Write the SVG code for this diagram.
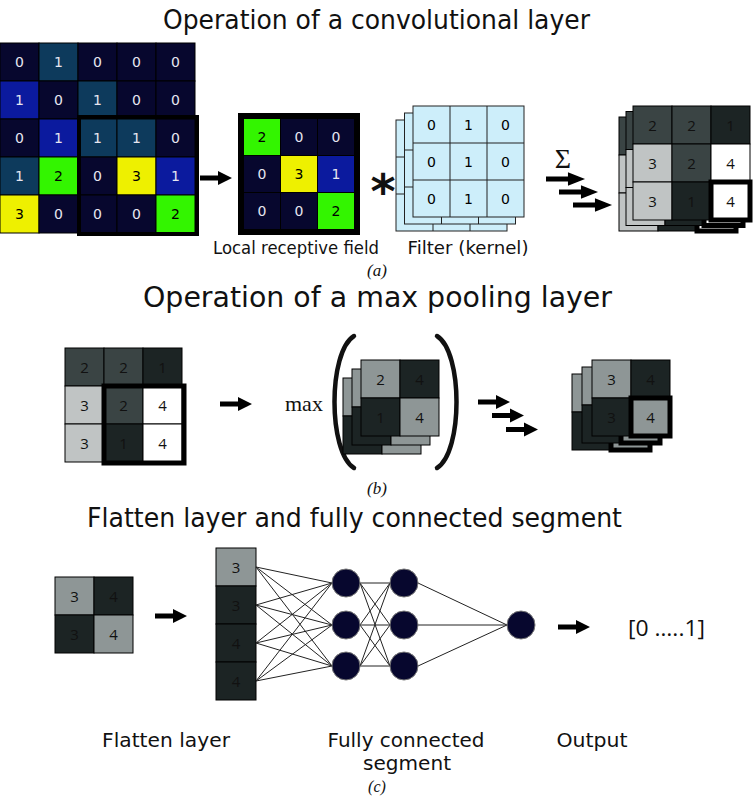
<svg xmlns="http://www.w3.org/2000/svg" width="754" height="796" viewBox="0 0 754 796">
<defs>
<style>
.t{font-family:"DejaVu Sans","Liberation Sans",sans-serif;fill:#111}
.title{font-size:26px}
.lbl{font-size:18px}
.lbl2{font-size:19px}
.n{font-size:14px;text-anchor:middle;dominant-baseline:central;font-family:"DejaVu Sans",sans-serif}
.nw{fill:#e6e6f0}
.nb{fill:#000}
.ng{font-size:15px;text-anchor:middle;dominant-baseline:central;font-family:"Open Sans","Liberation Sans",sans-serif;fill:#111}
.cap{font-family:"Liberation Serif",serif;font-style:italic;font-size:17px;text-anchor:middle;fill:#111}
.cell{stroke:#000;stroke-width:1}
.nav{fill:#07072e}
.tea{fill:#0d3a5c}
.blu{fill:#0b1a9e}
.grn{fill:#33f500}
.yel{fill:#eef000}
.kb{fill:#cdeefa;stroke:#222;stroke-width:1}
.dg{fill:#3a4444}
.dk{fill:#1c2424}
.lg{fill:#c0c4c4}
.wh{fill:#ffffff}
.gy{fill:#8e9696}
.thick{fill:none;stroke:#000}
.edge{stroke:#222;stroke-width:1;fill:none}
.neu{fill:#07072e;stroke:#777;stroke-width:1}
</style>
<path id="arr" d="M0,-2.6 H18 V-7 L32,0 L18,7 V2.6 H0 Z" fill="#000"/>
</defs>

<rect width="754" height="796" fill="#fff"/>

<text class="t title" x="376.5" y="29" text-anchor="middle" textLength="427" lengthAdjust="spacingAndGlyphs">Operation of a convolutional layer</text>

<g id="input-grid">
<rect class="cell nav" x="0" y="43" width="39" height="38"/><rect class="cell tea" x="39" y="43" width="39" height="38"/><rect class="cell nav" x="78" y="43" width="39" height="38"/><rect class="cell nav" x="117" y="43" width="39" height="38"/><rect class="cell nav" x="156" y="43" width="39" height="38"/>
<rect class="cell blu" x="0" y="81" width="39" height="38"/><rect class="cell nav" x="39" y="81" width="39" height="38"/><rect class="cell tea" x="78" y="81" width="39" height="38"/><rect class="cell nav" x="117" y="81" width="39" height="38"/><rect class="cell nav" x="156" y="81" width="39" height="38"/>
<rect class="cell nav" x="0" y="119" width="39" height="38"/><rect class="cell blu" x="39" y="119" width="39" height="38"/><rect class="cell tea" x="78" y="119" width="39" height="38"/><rect class="cell tea" x="117" y="119" width="39" height="38"/><rect class="cell nav" x="156" y="119" width="39" height="38"/>
<rect class="cell tea" x="0" y="157" width="39" height="38"/><rect class="cell grn" x="39" y="157" width="39" height="38"/><rect class="cell nav" x="78" y="157" width="39" height="38"/><rect class="cell yel" x="117" y="157" width="39" height="38"/><rect class="cell blu" x="156" y="157" width="39" height="38"/>
<rect class="cell yel" x="0" y="195" width="39" height="38"/><rect class="cell nav" x="39" y="195" width="39" height="38"/><rect class="cell nav" x="78" y="195" width="39" height="38"/><rect class="cell nav" x="117" y="195" width="39" height="38"/><rect class="cell grn" x="156" y="195" width="39" height="38"/>
<text class="n nw" x="19.5" y="62">0</text><text class="n nw" x="58.5" y="62">1</text><text class="n nw" x="97.5" y="62">0</text><text class="n nw" x="136.5" y="62">0</text><text class="n nw" x="175.5" y="62">0</text>
<text class="n nw" x="19.5" y="100">1</text><text class="n nw" x="58.5" y="100">0</text><text class="n nw" x="97.5" y="100">1</text><text class="n nw" x="136.5" y="100">0</text><text class="n nw" x="175.5" y="100">0</text>
<text class="n nw" x="19.5" y="138">0</text><text class="n nw" x="58.5" y="138">1</text><text class="n nw" x="97.5" y="138">1</text><text class="n nw" x="136.5" y="138">1</text><text class="n nw" x="175.5" y="138">0</text>
<text class="n nw" x="19.5" y="176">1</text><text class="n nb" x="58.5" y="176">2</text><text class="n nw" x="97.5" y="176">0</text><text class="n nb" x="136.5" y="176">3</text><text class="n nw" x="175.5" y="176">1</text>
<text class="n nb" x="19.5" y="214">3</text><text class="n nw" x="58.5" y="214">0</text><text class="n nw" x="97.5" y="214">0</text><text class="n nw" x="136.5" y="214">0</text><text class="n nb" x="175.5" y="214">2</text>
<rect class="thick" x="79" y="117" width="118" height="117" stroke-width="4"/>
</g>

<g id="receptive-field">
<rect x="238" y="113" width="122" height="122" fill="#000"/>
<rect class="grn" x="244" y="119" width="36" height="36"/><rect class="nav" x="281" y="119" width="36" height="36"/><rect class="nav" x="318" y="119" width="36" height="36"/>
<rect class="nav" x="244" y="156" width="36" height="36"/><rect class="yel" x="281" y="156" width="36" height="36"/><rect class="blu" x="318" y="156" width="36" height="36"/>
<rect class="nav" x="244" y="193" width="36" height="36"/><rect class="nav" x="281" y="193" width="36" height="36"/><rect class="grn" x="318" y="193" width="36" height="36"/>
<text class="n nb" x="262" y="137">2</text><text class="n nw" x="299" y="137">0</text><text class="n nw" x="336" y="137">0</text>
<text class="n nw" x="262" y="174">0</text><text class="n nb" x="299" y="174">3</text><text class="n nw" x="336" y="174">1</text>
<text class="n nw" x="262" y="211">0</text><text class="n nw" x="299" y="211">0</text><text class="n nb" x="336" y="211">2</text>
<text class="t lbl" x="296" y="254" text-anchor="middle" textLength="166" lengthAdjust="spacingAndGlyphs">Local receptive field</text>
</g>

<g id="filter">
<text x="383" y="208" font-family="DejaVu Sans,sans-serif" font-weight="bold" font-size="48" text-anchor="middle" fill="#111">*</text>
<g transform="translate(396,120)"><rect class="kb" width="111" height="111"/><path class="edge" d="M37,0V111M74,0V111M0,37H111M0,74H111"/></g>
<g transform="translate(404.5,113)"><rect class="kb" width="111" height="111"/><path class="edge" d="M37,0V111M74,0V111M0,37H111M0,74H111"/></g>
<g transform="translate(413,106)"><rect class="kb" width="111" height="111"/><path class="edge" d="M37,0V111M74,0V111M0,37H111M0,74H111"/>
<text class="n nb" x="18.5" y="18.5">0</text><text class="n nb" x="55.5" y="18.5">1</text><text class="n nb" x="92.5" y="18.5">0</text>
<text class="n nb" x="18.5" y="55.5">0</text><text class="n nb" x="55.5" y="55.5">1</text><text class="n nb" x="92.5" y="55.5">0</text>
<text class="n nb" x="18.5" y="92.5">0</text><text class="n nb" x="55.5" y="92.5">1</text><text class="n nb" x="92.5" y="92.5">0</text></g>
<text class="t lbl" x="468" y="254" text-anchor="middle" textLength="121" lengthAdjust="spacingAndGlyphs">Filter (kernel)</text>
</g>

<text x="563" y="168" font-family="Liberation Serif,serif" font-size="28" text-anchor="middle" fill="#111">Σ</text>

<g id="feature-map">
<g transform="translate(619,117)">
<rect class="cell dg" x="0" y="0" width="39" height="38"/><rect class="cell dg" x="39" y="0" width="39" height="38"/><rect class="cell dk" x="78" y="0" width="39" height="38"/>
<rect class="cell lg" x="0" y="38" width="39" height="38"/><rect class="cell dg" x="39" y="38" width="39" height="38"/><rect class="cell wh" x="78" y="38" width="39" height="38"/>
<rect class="cell lg" x="0" y="76" width="39" height="38"/><rect class="cell dk" x="39" y="76" width="39" height="38"/><rect class="cell wh" x="78" y="76" width="39" height="38"/>
<rect class="thick" x="78" y="76" width="39" height="38" stroke-width="5"/></g>
<g transform="translate(626,111.5)">
<rect class="cell dg" x="0" y="0" width="39" height="38"/><rect class="cell dg" x="39" y="0" width="39" height="38"/><rect class="cell dk" x="78" y="0" width="39" height="38"/>
<rect class="cell lg" x="0" y="38" width="39" height="38"/><rect class="cell dg" x="39" y="38" width="39" height="38"/><rect class="cell wh" x="78" y="38" width="39" height="38"/>
<rect class="cell lg" x="0" y="76" width="39" height="38"/><rect class="cell dk" x="39" y="76" width="39" height="38"/><rect class="cell wh" x="78" y="76" width="39" height="38"/>
<rect class="thick" x="78" y="76" width="39" height="38" stroke-width="5"/></g>
<g transform="translate(633,106)">
<rect class="cell dg" x="0" y="0" width="39" height="38"/><rect class="cell dg" x="39" y="0" width="39" height="38"/><rect class="cell dk" x="78" y="0" width="39" height="38"/>
<rect class="cell lg" x="0" y="38" width="39" height="38"/><rect class="cell dg" x="39" y="38" width="39" height="38"/><rect class="cell wh" x="78" y="38" width="39" height="38"/>
<rect class="cell lg" x="0" y="76" width="39" height="38"/><rect class="cell dk" x="39" y="76" width="39" height="38"/><rect class="cell wh" x="78" y="76" width="39" height="38"/>
<rect class="thick" x="78" y="76" width="39" height="38" stroke-width="5"/>
<text class="ng" x="19.5" y="19">2</text><text class="ng" x="58.5" y="19">2</text><text class="ng" x="97.5" y="19">1</text>
<text class="ng" x="19.5" y="57">3</text><text class="ng" x="58.5" y="57">2</text><text class="ng" x="97.5" y="57">4</text>
<text class="ng" x="19.5" y="95">3</text><text class="ng" x="58.5" y="95">1</text><text class="ng" x="97.5" y="95">4</text></g>
</g>

<text class="cap" x="377" y="276">(a)</text>

<text class="t title" x="377.5" y="307" text-anchor="middle" style="font-size:28px" textLength="469" lengthAdjust="spacingAndGlyphs">Operation of a max pooling layer</text>

<g id="pool-input">
<rect class="cell dg" x="65" y="348" width="39" height="38"/><rect class="cell dg" x="104" y="348" width="39" height="38"/><rect class="cell dk" x="143" y="348" width="39" height="38"/>
<rect class="cell lg" x="65" y="386" width="39" height="38"/><rect class="cell dg" x="104" y="386" width="39" height="38"/><rect class="cell wh" x="143" y="386" width="39" height="38"/>
<rect class="cell lg" x="65" y="424" width="39" height="38"/><rect class="cell dk" x="104" y="424" width="39" height="38"/><rect class="cell wh" x="143" y="424" width="39" height="38"/>
<text class="ng" x="84.5" y="367">2</text><text class="ng" x="123.5" y="367">2</text><text class="ng" x="162.5" y="367">1</text>
<text class="ng" x="84.5" y="405">3</text><text class="ng" x="123.5" y="405">2</text><text class="ng" x="162.5" y="405">4</text>
<text class="ng" x="84.5" y="443">3</text><text class="ng" x="123.5" y="443">1</text><text class="ng" x="162.5" y="443">4</text>
<rect class="thick" x="104" y="386" width="80" height="77" stroke-width="5"/>
</g>

<text x="285" y="411" font-family="Liberation Serif,serif" font-size="22" fill="#111">max</text>

<g id="pool-window">
<path d="M354,336 C328,352 328,452 354,468" fill="none" stroke="#111" stroke-width="4.5" stroke-linecap="round"/>
<path d="M437,336 C463,352 463,452 437,468" fill="none" stroke="#111" stroke-width="4.5" stroke-linecap="round"/>
<g transform="translate(343,378)"><rect class="cell gy" width="39" height="38"/><rect class="cell dk" x="39" width="39" height="38"/><rect class="cell dk" y="38" width="39" height="38"/><rect class="cell gy" x="39" y="38" width="39" height="38"/></g>
<g transform="translate(352,369)"><rect class="cell gy" width="39" height="38"/><rect class="cell dk" x="39" width="39" height="38"/><rect class="cell dk" y="38" width="39" height="38"/><rect class="cell gy" x="39" y="38" width="39" height="38"/></g>
<g transform="translate(361,360)"><rect class="cell gy" width="39" height="38"/><rect class="cell dk" x="39" width="39" height="38"/><rect class="cell dk" y="38" width="39" height="38"/><rect class="cell gy" x="39" y="38" width="39" height="38"/>
<text class="ng" x="19.5" y="19">2</text><text class="ng" x="58.5" y="19">4</text><text class="ng" x="19.5" y="57">1</text><text class="ng" x="58.5" y="57">4</text></g>
</g>

<g id="pool-output">
<g transform="translate(572,374)"><rect class="cell gy" width="39" height="38"/><rect class="cell dk" x="39" width="39" height="38"/><rect class="cell dk" y="38" width="39" height="38"/><rect class="cell gy" x="39" y="38" width="39" height="38"/><rect class="thick" x="39" y="38" width="39" height="38" stroke-width="5"/></g>
<g transform="translate(582,367)"><rect class="cell gy" width="39" height="38"/><rect class="cell dk" x="39" width="39" height="38"/><rect class="cell dk" y="38" width="39" height="38"/><rect class="cell gy" x="39" y="38" width="39" height="38"/><rect class="thick" x="39" y="38" width="39" height="38" stroke-width="5"/></g>
<g transform="translate(592,360)"><rect class="cell gy" width="39" height="38"/><rect class="cell dk" x="39" width="39" height="38"/><rect class="cell dk" y="38" width="39" height="38"/><rect class="cell gy" x="39" y="38" width="39" height="38"/><rect class="thick" x="39" y="38" width="39" height="38" stroke-width="5"/>
<text class="ng" x="19.5" y="19">3</text><text class="ng" x="58.5" y="19">4</text><text class="ng" x="19.5" y="57">3</text><text class="ng" x="58.5" y="57">4</text></g>
</g>

<text class="cap" x="377" y="494">(b)</text>

<text class="t title" x="354.5" y="527" text-anchor="middle" textLength="535" lengthAdjust="spacingAndGlyphs">Flatten layer and fully connected segment</text>

<g id="flat-input">
<rect class="cell gy" x="55" y="577" width="39" height="38"/><rect class="cell dk" x="94" y="577" width="39" height="38"/><rect class="cell dk" x="55" y="615" width="39" height="38"/><rect class="cell gy" x="94" y="615" width="39" height="38"/>
<text class="ng" x="74.5" y="596">3</text><text class="ng" x="113.5" y="596">4</text><text class="ng" x="74.5" y="634">3</text><text class="ng" x="113.5" y="634">4</text>
</g>

<g id="flatten-column">
<rect class="cell gy" x="216" y="548" width="40" height="38"/><rect class="cell dk" x="216" y="586" width="40" height="38"/><rect class="cell dk" x="216" y="624" width="40" height="38"/><rect class="cell dk" x="216" y="662" width="40" height="38"/>
<text class="ng" x="236" y="567">3</text><text class="ng" x="236" y="605">3</text><text class="ng" x="236" y="643">4</text><text class="ng" x="236" y="681">4</text>
</g>

<g id="connectors">
<use href="#arr" transform="translate(200,178)"/>
<use href="#arr" transform="translate(546,179) scale(1.22,0.95)"/>
<use href="#arr" transform="translate(559,192) scale(1.22,0.95)"/>
<use href="#arr" transform="translate(573,205) scale(1.22,0.95)"/>
<use href="#arr" transform="translate(220,404)"/>
<use href="#arr" transform="translate(478,402)"/>
<use href="#arr" transform="translate(492,415.5)"/>
<use href="#arr" transform="translate(506,429.5)"/>
<use href="#arr" transform="translate(155,616)"/>
<use href="#arr" transform="translate(558,627)"/>
<path class="edge" d="M256,567L332,583M256,567L332,625M256,567L332,666M256,605L332,583M256,605L332,625M256,605L332,666M256,643L332,583M256,643L332,625M256,643L332,666M256,681L332,583M256,681L332,625M256,681L332,666"/>
<path class="edge" d="M360,583L390,583M360,583L390,625M360,583L390,666M360,625L390,583M360,625L390,625M360,625L390,666M360,666L390,583M360,666L390,625M360,666L390,666"/>
<path class="edge" d="M418,583L507,625M418,625L507,625M418,666L507,625"/>
</g>

<g id="fc-layer1"><circle class="neu" cx="346" cy="583" r="14"/><circle class="neu" cx="346" cy="625" r="14"/><circle class="neu" cx="346" cy="666" r="14"/></g>
<g id="fc-layer2"><circle class="neu" cx="404" cy="583" r="14"/><circle class="neu" cx="404" cy="625" r="14"/><circle class="neu" cx="404" cy="666" r="14"/></g>
<g id="output-neuron"><circle class="neu" cx="521" cy="625" r="14"/></g>

<text x="628" y="636" font-family="Open Sans,Liberation Sans,sans-serif" font-size="22" fill="#111" textLength="77" lengthAdjust="spacingAndGlyphs">[0 …..1]</text>

<text class="t lbl2" x="166" y="747" text-anchor="middle" textLength="128" lengthAdjust="spacingAndGlyphs">Flatten layer</text>
<text class="t lbl2" x="406" y="747" text-anchor="middle" textLength="157" lengthAdjust="spacingAndGlyphs">Fully connected</text>
<text class="t lbl2" x="407" y="770" text-anchor="middle" textLength="88" lengthAdjust="spacingAndGlyphs">segment</text>
<text class="t lbl2" x="592" y="747" text-anchor="middle" textLength="71" lengthAdjust="spacingAndGlyphs">Output</text>
<text class="cap" x="377" y="792" style="font-size:16px">(c)</text>
</svg>
